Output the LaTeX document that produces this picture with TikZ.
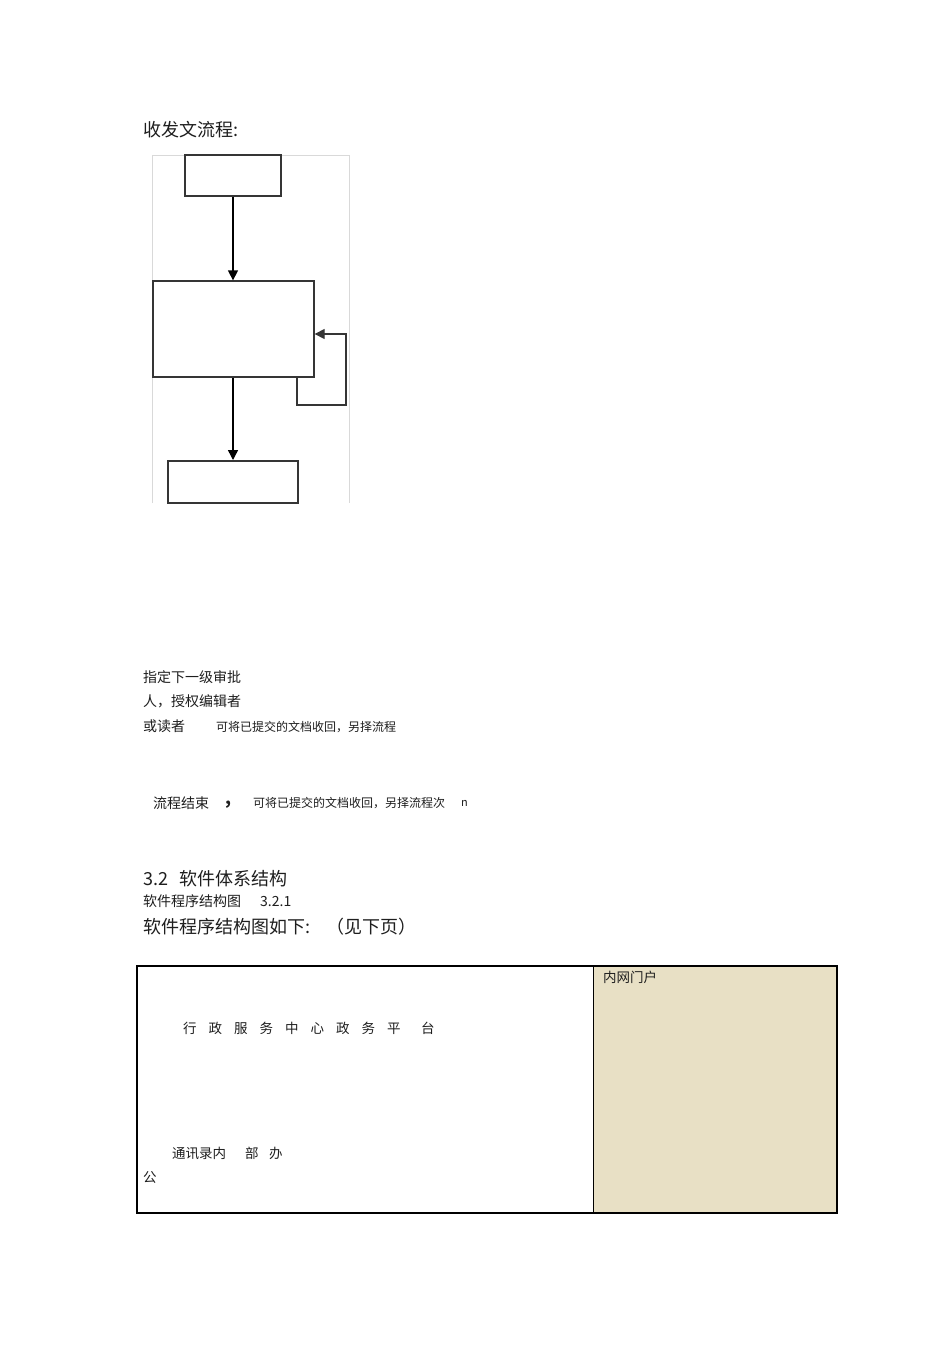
\documentclass[tikz,border=0pt]{standalone}
\usepackage{fontspec}
\setmainfont{Noto Sans CJK SC}
\usetikzlibrary{arrows.meta}
\definecolor{beige}{RGB}{232,224,197}
\definecolor{ink}{RGB}{30,30,30}
\tikzset{
  txt/.style={anchor=west, inner sep=0pt, text=ink},
  fbox/.style={draw=ink!90, line width=1.3pt, fill=white, inner sep=0pt},
  arr/.style={draw=black, line width=1.4pt, -{Triangle[width=10pt,length=10pt]}},
  loopline/.style={draw=ink!90, line width=1.2pt, -{Triangle[width=10pt,length=10pt]}},
  frameline/.style={draw=black!15, line width=0.8pt},
}
\begin{document}
\begin{tikzpicture}[x=1pt,y=-1pt]
\useasboundingbox[fill=white] (0,0) rectangle (950,1345);

% heading
\node[txt, font=\fontsize{18}{20}\selectfont] (h1) at (143,130) {收发文流程:};

% flowchart frame
\draw[frameline] (152,503) -- (152,155) -- (349,155) -- (349,503);

% boxes
\node[fbox, minimum width=96, minimum height=41] (top) at (233,175.5) {};
\node[fbox, minimum width=161, minimum height=96] (main) at (233.5,329) {};
\node[fbox, line width=2pt, minimum width=130, minimum height=42] (bot) at (233,482) {};

% arrows
\draw[arr] (top.south) -- (top.south |- main.north);
\draw[arr] (main.south -| top.south) -- (top.south |- bot.north);
\coordinate (l0) at (297,377);
\coordinate (l1) at (297,405);
\coordinate (l2) at (346,405);
\coordinate (l3) at (346,334);
\draw[loopline] (l0) -- (l1) -- (l2) -- (l3) -- (l3 -| main.east);

% texts below flowchart
\node[txt, font=\fontsize{14}{16}\selectfont] (t1) at (143,677) {指定下一级审批};
\node[txt, font=\fontsize{14}{16}\selectfont] (t2) at (143,701) {人，授权编辑者};
\node[txt, font=\fontsize{14}{16}\selectfont] (t3) at (143,726) {或读者};
\node[txt, font=\fontsize{12}{14}\selectfont] (t4) at (216,727) {可将已提交的文档收回，另择流程};
\node[txt, font=\fontsize{14}{16}\selectfont] (t5) at (153,803) {流程结束};
\node[txt, font=\fontsize{17}{16}\selectfont\bfseries] (t6) at (225,805) {,};
\node[txt, font=\fontsize{12}{14}\selectfont] (t7) at (253,803) {可将已提交的文档收回，另择流程次};
\node[txt, font=\fontsize{11}{14}\selectfont] (t8) at (461,803) {n};

% section texts
\node[txt, font=\fontsize{18}{20}\selectfont] (s1) at (143,879) {3.2\hspace{11pt}软件体系结构};
\node[txt, font=\fontsize{14}{16}\selectfont] (s2) at (143,901) {软件程序结构图\hspace{19pt}3.2.1};
\node[txt, font=\fontsize{18}{20}\selectfont] (s3) at (143,927) {软件程序结构图如下:\hspace{16pt}（见下页）};

% table
\fill[beige] (593,966) rectangle (837,1213);
\draw[black, line width=1.1pt] (137,966) rectangle (837,1213);
\draw[black, line width=1pt] (593,966) -- (593,1213);
\node[txt, font=\fontsize{13.5}{15}\selectfont] (r1) at (603,977) {内网门户};
\node[txt, font=\fontsize{13.5}{15}\selectfont] (c1) at (183,1028) {行\hspace{12pt}政\hspace{12pt}服\hspace{12pt}务\hspace{12pt}中\hspace{12pt}心\hspace{12pt}政\hspace{12pt}务\hspace{12pt}平\hspace{20.5pt}台};
\node[txt, font=\fontsize{13.5}{15}\selectfont] (c2) at (172,1153) {通讯录内\hspace{19pt}部\hspace{10.5pt}办};
\node[txt, font=\fontsize{13.5}{15}\selectfont] (c3) at (143,1177) {公};
\end{tikzpicture}
\end{document}
